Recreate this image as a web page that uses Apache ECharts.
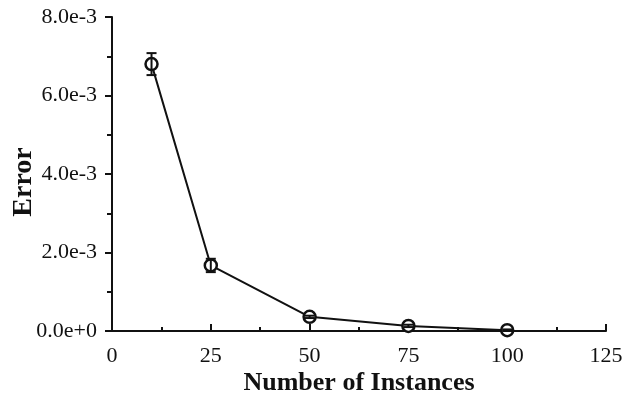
<!DOCTYPE html>
<html><head><meta charset="utf-8">
<script src="https://cdn.jsdelivr.net/npm/echarts@6/dist/echarts.min.js"></script>
<style>html,body{margin:0;padding:0;background:#fff}#c{width:627px;height:407px}</style>
</head><body><div id="c"></div>
<script>
const instances = [10, 25, 50, 75, 100];
const errorVals = [0.00680, 0.00167, 0.00036, 0.00013, 0.00002];
const errorLow  = [0.00652, 0.00150, 0.00033, 0.00010, 0.00000];
const errorHigh = [0.00708, 0.00184, 0.00039, 0.00016, 0.00004];

const chart = echarts.init(document.getElementById('c'));
const font = 'Liberation Serif';
chart.setOption({
  animation: false,
  grid: {left: 112, right: 21, top: 17, bottom: 76, containLabel: false, outerBoundsMode: 'none'},
  xAxis: {
    type: 'value', min: 0, max: 125, interval: 25,
    name: 'Number of Instances', nameLocation: 'middle', nameGap: 39, nameMoveOverlap: false,
    nameTextStyle: {fontFamily: font, fontWeight: 'bold', fontSize: 26, color: '#111'},
    axisLine: {lineStyle: {color: '#111', width: 2}},
    axisTick: {inside: true, length: 7, lineStyle: {color: '#111', width: 2}},
    minorTick: {show: true, splitNumber: 2, length: 4, lineStyle: {color: '#111', width: 2}},
    axisLabel: {fontFamily: font, fontSize: 22, color: '#111', margin: 14},
    splitLine: {show: false}
  },
  yAxis: {
    type: 'value', min: 0, max: 0.008, interval: 0.002,
    name: 'Error', nameLocation: 'middle', nameGap: 74, nameRotate: 90, nameMoveOverlap: false,
    nameTextStyle: {fontFamily: font, fontWeight: 'bold', fontSize: 28, color: '#111', padding: [0, 16, 0, 0]},
    axisLine: {show: true, lineStyle: {color: '#111', width: 2}},
    axisTick: {show: true, length: 7, lineStyle: {color: '#111', width: 2}},
    minorTick: {show: true, splitNumber: 2, length: 5, lineStyle: {color: '#111', width: 2}},
    axisLabel: {fontFamily: font, fontSize: 22, color: '#111', margin: 15,
      formatter: v => v.toExponential(1)},
    splitLine: {show: false}
  },
  series: [
    {
      type: 'line', data: instances.map((x, i) => [x, errorVals[i]]),
      symbol: 'circle', symbolSize: 12, showSymbol: true,
      lineStyle: {color: '#111', width: 2},
      itemStyle: {color: '#fff', borderColor: '#111', borderWidth: 2.5},
      z: 3
    },
    {
      type: 'custom',
      data: instances.map((x, i) => [x, errorLow[i], errorHigh[i]]),
      renderItem: function (params, api) {
        const lo = api.coord([api.value(0), api.value(1)]);
        const hi = api.coord([api.value(0), api.value(2)]);
        const hw = 5;
        const st = {stroke: '#111', lineWidth: 2};
        return {type: 'group', children: [
          {type: 'line', shape: {x1: lo[0], y1: lo[1], x2: hi[0], y2: hi[1]}, style: st},
          {type: 'line', shape: {x1: lo[0]-hw, y1: lo[1], x2: lo[0]+hw, y2: lo[1]}, style: st},
          {type: 'line', shape: {x1: hi[0]-hw, y1: hi[1], x2: hi[0]+hw, y2: hi[1]}, style: st}
        ]};
      },
      z: 4
    }
  ]
});
</script></body></html>
